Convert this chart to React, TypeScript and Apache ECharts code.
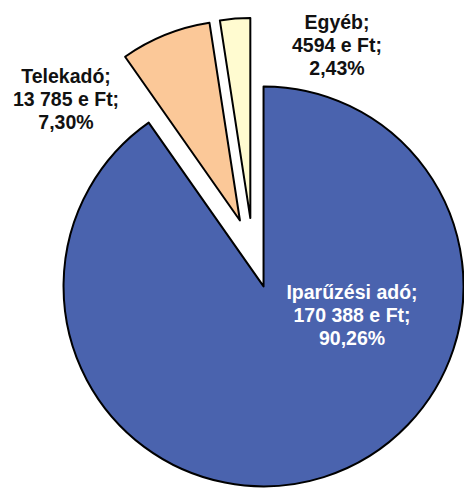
import React, { useEffect, useRef } from "react";
import * as echarts from "echarts";

const categories = ["Iparűzési adó", "Telekadó", "Egyéb"];
const values = [170388, 13785, 4594];
const colors = ["#4A63AE", "#FBC898", "#FFFBD0"];
const labelColors = ["#FFFFFF", "#111111", "#111111"];
const labelCenters: [number, number][] = [
  [352, 315],
  [66, 99],
  [337, 45],
];

function fmtThousands(v: number): string {
  if (v < 10000) return String(v);
  return String(v).replace(/\B(?=(\d{3})+(?!\d))/g, " ");
}

export default function App() {
  const ref = useRef<HTMLDivElement>(null);
  useEffect(() => {
    if (!ref.current) return;
    const chart = echarts.init(ref.current, undefined, { renderer: "svg" });
    const total = values.reduce((a, b) => a + b, 0);
    const data = categories.map((name, i) => ({
      name,
      value: values[i],
      selected: true,
      itemStyle: { color: colors[i], borderColor: "#000", borderWidth: 2 },
      select: { itemStyle: { color: colors[i], borderColor: "#000", borderWidth: 2 } },
    }));
    const texts = categories.map((name, i) => ({
      type: "text",
      x: labelCenters[i][0],
      y: labelCenters[i][1],
      silent: true,
      z: 100,
      style: {
        text: `${name};\n${fmtThousands(values[i])} e Ft;\n${((values[i] / total) * 100)
          .toFixed(2)
          .replace(".", ",")}%`,
        fill: labelColors[i],
        font: "bold 19.5px 'Liberation Sans', Arial, sans-serif",
        lineHeight: 23,
        align: "center",
        verticalAlign: "middle",
      },
    }));
    chart.setOption({
      animation: false,
      backgroundColor: "#ffffff",
      graphic: texts,
      series: [
        {
          type: "pie",
          center: [253, 253],
          radius: 200,
          startAngle: 90,
          clockwise: true,
          selectedMode: "multiple",
          selectedOffset: 35,
          avoidLabelOverlap: false,
          silent: true,
          data,
          label: { show: false },
          labelLine: { show: false },
        },
      ],
    });
    return () => chart.dispose();
  }, []);
  return (
    <div
      ref={ref}
      style={{ position: "absolute", left: 0, top: 0, width: 464, height: 492 }}
    />
  );
}
